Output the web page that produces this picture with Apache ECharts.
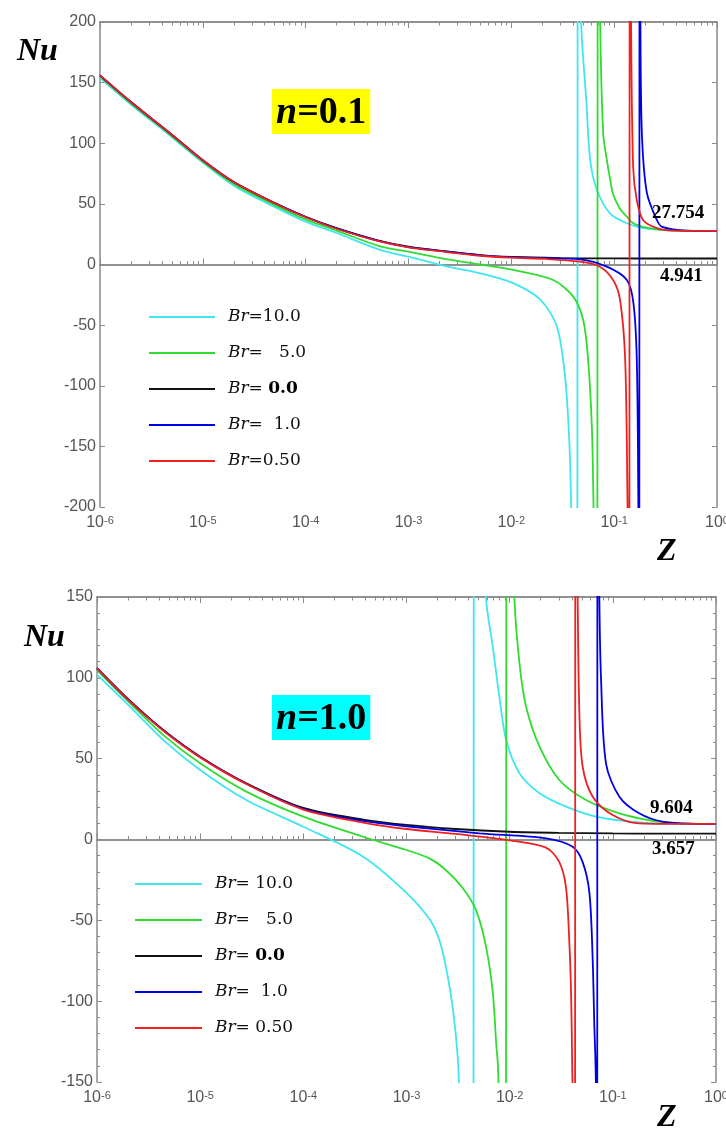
<!DOCTYPE html>
<html>
<head>
<meta charset="utf-8">
<script src="https://cdn.jsdelivr.net/npm/echarts@6/dist/echarts.min.js"></script>
<style>
  html, body { margin: 0; padding: 0; background: #fff; }
  #main { width: 726px; height: 1132px; }
</style>
</head>
<body>
<div id="main"></div>
<script>
// ---- data: [Z, Nu] ----
// top panel, n = 0.1
var topBr10 = [[1e-6,154],[2e-6,132],[5e-6,105],[1e-5,84],[2e-5,65],[5e-5,47.5],[1e-4,35.3],[2e-4,26],[5.3e-4,12],[1e-3,6.4],[2.4e-3,-1.8],[5e-3,-7.3],[0.0104,-15.4],[0.0191,-29],[0.0277,-51],[0.0333,-92.5],[0.0367,-147],[0.0382,-200],[0.0395,-260],[0.0438,-400],[0.0442,400],[0.0478,199],[0.0535,136],[0.0585,86],[0.068,61.4],[0.0914,42],[0.133,34],[0.191,30],[0.33,28.2],[1,27.754]];
var topBr5 = [[1e-6,155],[2e-6,133],[5e-6,106],[1e-5,85],[2e-5,66.5],[5e-5,49],[1e-4,37.2],[2e-4,28],[5.3e-4,15],[1e-3,10.6],[2.4e-3,4.3],[5e-3,0],[0.0104,-4.5],[0.0255,-12.8],[0.04,-26.5],[0.05,-45.8],[0.0558,-78.8],[0.0607,-134],[0.063,-200],[0.064,-250],[0.0685,-400],[0.0692,400],[0.0731,199],[0.0782,108],[0.0849,86],[0.0914,70],[0.0977,58],[0.114,46],[0.133,39.4],[0.153,34],[0.191,31],[0.224,30],[0.28,28.7],[0.375,28.1],[1,27.754]];
var topBr0 = [[1e-6,156],[2e-6,134],[5e-6,107],[1e-5,86],[2e-5,68],[5e-5,50.7],[1e-4,39.4],[2e-4,30],[5e-4,20],[1e-3,14.7],[2e-3,11.5],[5e-3,7.8],[1e-2,6.2],[0.03,5.3],[0.1,5.0],[0.3,4.95],[1,4.941]];
var topBr1 = [[1e-6,156],[2e-6,134],[5e-6,107],[1e-5,86],[2e-5,68],[5e-5,50.6],[1e-4,39.2],[2e-4,29.8],[5e-4,19.7],[1e-3,14.4],[2e-3,11.3],[5e-3,7.6],[1e-2,6],[0.0218,5.2],[0.0466,4.3],[0.0849,-1.8],[0.133,-12.8],[0.154,-32],[0.166,-78.8],[0.172,-200],[0.1735,-250],[0.1755,-400],[0.1765,400],[0.18,199],[0.186,108],[0.208,59],[0.26,36.7],[0.293,31],[0.51,28],[1,27.754]];
var topBr05 = [[1e-6,156],[2e-6,134],[5e-6,107],[1e-5,86],[2e-5,68],[5e-5,50.5],[1e-4,39],[2e-4,29.5],[5e-4,19.5],[1e-3,14.2],[2e-3,11],[5e-3,7.2],[1e-2,5.6],[0.0218,4.6],[0.0466,2.3],[0.0725,-1.8],[0.0977,-12.8],[0.114,-29],[0.128,-78.8],[0.135,-200],[0.137,-250],[0.1405,-400],[0.1415,400],[0.146,199],[0.153,80],[0.166,53],[0.191,36.7],[0.26,30],[0.375,28],[1,27.754]];

// bottom panel, n = 1.0
var botBr10 = [[1e-6,102],[2.1e-6,82],[4.4e-6,61.5],[1e-5,43],[2.8e-5,24.4],[1e-4,7.9],[3.8e-4,-10.6],[1e-3,-33],[1.7e-3,-50],[2.1e-3,-63],[2.43e-3,-80],[2.82e-3,-105],[3.15e-3,-136],[3.25e-3,-160],[3.5e-3,-220],[4.45e-3,-300],[4.5e-3,300],[5.9e-3,149],[6.87e-3,119],[7.96e-3,88],[9.25e-3,61.5],[0.01245,41],[0.0195,28.6],[0.0352,20.3],[0.0687,14.1],[0.1445,11],[0.303,9.8],[1,9.604]];
var botBr5 = [[1e-6,104.8],[2.1e-6,84.2],[4.4e-6,64.6],[1e-5,47.1],[2.8e-5,29.6],[1e-4,14.1],[3.8e-4,1.7],[1e-3,-6.5],[1.65e-3,-11.5],[2.27e-3,-17.5],[3.5e-3,-30],[4.74e-3,-44],[5.9e-3,-66.3],[6.87e-3,-95],[7.4e-3,-126],[7.7e-3,-140],[7.85e-3,-160],[9.2e-3,-300],[9.3e-3,300],[0.0111,150],[0.01245,109],[0.01445,82],[0.0195,57.4],[0.0303,36.8],[0.055,24.4],[0.1157,16.2],[0.243,11.6],[0.44,10],[1,9.604]];
var botBr0 = [[1e-6,106],[2e-6,87],[4.4e-6,67.7],[1e-5,51.2],[2.8e-5,34.8],[1e-4,19.5],[3.8e-4,12.3],[1e-3,9],[3e-3,6.5],[1e-2,4.8],[0.03,4.1],[0.1,3.75],[0.3,3.66],[1,3.657]];
var botBr1 = [[1e-6,106],[2e-6,86.5],[4.4e-6,67.5],[1e-5,51],[2.8e-5,34.5],[1e-4,19],[3.8e-4,11.5],[1e-3,8.2],[5.1e-3,3.8],[0.0225,0.7],[0.0408,-4.5],[0.051,-14],[0.0593,-33],[0.0638,-74.5],[0.0662,-116],[0.0678,-136],[0.0688,-160],[0.0705,-300],[0.0709,300],[0.074,150],[0.0769,99],[0.0859,47],[0.1157,26.5],[0.18,16.2],[0.303,11],[0.64,9.7],[1,9.604]];
var botBr05 = [[1e-6,106],[2e-6,86.5],[4.4e-6,67.3],[1e-5,50.8],[2.8e-5,34.3],[1e-4,18.5],[3.8e-4,10.5],[1e-3,6.5],[3e-3,3.5],[1e-2,-0.5],[0.0225,-5],[0.0303,-14],[0.0352,-30],[0.0379,-64],[0.0394,-95],[0.0403,-136],[0.0408,-160],[0.043,-300],[0.0433,300],[0.0456,150],[0.0474,78],[0.051,45],[0.0638,26.5],[0.0995,15.2],[0.18,10],[0.44,9.62],[1,9.604]];

var seriesNames = ['Br10', 'Br5', 'Br0', 'Br1', 'Br05'];
var seriesColors = ['#3fe6f0', '#2fdc2f', '#111111', '#0000e6', '#ee2020'];
var topLegendText = ['{g|}{i|Br}{t|=10.0}', '{g|}{i|Br}{t|=   5.0}', '{g|}{i|Br}{t|= }{b|0.0}', '{g|}{i|Br}{t|=  1.0}', '{g|}{i|Br}{t|=0.50}'];
var botLegendText = ['{g|}{i|Br}{t|= 10.0}', '{g|}{i|Br}{t|=   5.0}', '{g|}{i|Br}{t|= }{b|0.0}', '{g|}{i|Br}{t|=  1.0}', '{g|}{i|Br}{t|= 0.50}'];
var decades = [1e-6, 1e-5, 1e-4, 1e-3, 1e-2, 1e-1, 1];

var minorZ = [];
for (var d = 0; d < decades.length - 1; d++) {
  for (var k = 2; k <= 9; k++) minorZ.push(+(decades[d] * k).toPrecision(3));
}

var chart = echarts.init(document.getElementById('main'));
var gray = '#8a8a8a';
var sans = 'Liberation Sans, Arial, sans-serif';
var serif = 'Liberation Serif, Times New Roman, serif';
var legendSerif = 'DejaVu Serif, serif';

function xAxisFor(grid, pos, ticks, len, labels) {
  return {
    type: 'log', logBase: 10, min: 1e-6, max: 1, gridIndex: grid, position: pos,
    axisLine: { show: true, lineStyle: { color: gray, width: 1.5 } },
    axisTick: { show: true, inside: true, length: len, customValues: ticks, lineStyle: { color: gray, width: 1 } },
    axisLabel: labels ? {
      show: true, customValues: decades, margin: 8, color: '#555', fontFamily: sans, fontSize: 16,
      formatter: function (v) { return '10{s|' + Math.round(Math.log(v) / Math.LN10) + '}'; },
      rich: { s: { fontSize: 11, fontFamily: sans, color: '#555', verticalAlign: 'top' } }
    } : { show: false },
    splitLine: { show: false }
  };
}

function yAxisFor(grid, pos, lo, hi, minor, labels) {
  return {
    type: 'value', gridIndex: grid, position: pos, min: lo, max: hi, interval: 50,
    axisLine: { show: true, lineStyle: { color: gray, width: 1.5 } },
    axisTick: { show: true, inside: true, length: 5, lineStyle: { color: gray } },
    minorTick: { show: minor, splitNumber: 5, length: 3, lineStyle: { color: gray } },
    axisLabel: { show: labels, margin: 4, color: '#555', fontFamily: sans, fontSize: 16 },
    splitLine: { show: false }
  };
}

function lineSeries(name, color, data, xi, yi) {
  return {
    name: name, type: 'line', data: data, xAxisIndex: xi, yAxisIndex: yi,
    showSymbol: false, symbol: 'none', smooth: 0.3, clip: true,
    color: color, lineStyle: { color: color, width: 1.8 }, emphasis: { disabled: true }
  };
}

function legendFor(top, left, width, texts) {
  return {
    data: seriesNames, orient: 'vertical', left: left, top: top,
    itemWidth: width, itemHeight: 2, itemGap: 16, icon: 'rect', selectedMode: false,
    formatter: function (name) { return texts[seriesNames.indexOf(name)]; },
    textStyle: {
      fontFamily: legendSerif, fontSize: 17, color: '#111', lineHeight: 20,
      rich: {
        g: { width: 8 },
        i: { fontFamily: legendSerif, fontStyle: 'italic', fontSize: 17, color: '#111' },
        t: { fontFamily: legendSerif, fontSize: 17, color: '#111' },
        b: { fontFamily: legendSerif, fontWeight: 'bold', fontSize: 17, color: '#000' }
      }
    }
  };
}

function label(text, left, top, size, style) {
  return {
    text: text, left: left, top: top, padding: 0,
    textStyle: { fontFamily: serif, fontWeight: 'bold', fontStyle: style || 'normal', fontSize: size, color: '#000' }
  };
}

function nLabel(text, left, top, bg) {
  return {
    text: text, left: left, top: top, padding: [3, 4, 0, 4], backgroundColor: bg,
    textStyle: {
      fontSize: 38, lineHeight: 42,
      rich: {
        i: { fontFamily: serif, fontWeight: 'bold', fontStyle: 'italic', fontSize: 38, color: '#000' },
        b: { fontFamily: serif, fontWeight: 'bold', fontSize: 38, color: '#000' }
      }
    }
  };
}

var topSets = [topBr10, topBr5, topBr0, topBr1, topBr05];
var botSets = [botBr10, botBr5, botBr0, botBr1, botBr05];
var series = [];
seriesNames.forEach(function (n, i) { series.push(lineSeries(n, seriesColors[i], topSets[i], 0, 0)); });
seriesNames.forEach(function (n, i) { series.push(lineSeries(n, seriesColors[i], botSets[i], 4, 2)); });

var option = {
  animation: false,
  backgroundColor: '#ffffff',
  grid: [
    { left: 100, top: 22, width: 617, height: 485, outerBoundsMode: 'none' },
    { left: 97, top: 597, width: 619, height: 485, outerBoundsMode: 'none' }
  ],
  xAxis: [
    xAxisFor(0, 'bottom', decades, 6, true),
    xAxisFor(0, 'bottom', minorZ, 3.5, false),
    xAxisFor(0, 'top', decades, 6, false),
    xAxisFor(0, 'top', minorZ, 3.5, false),
    xAxisFor(1, 'bottom', decades, 6, true),
    xAxisFor(1, 'bottom', minorZ, 3.5, false),
    xAxisFor(1, 'top', decades, 6, false),
    xAxisFor(1, 'top', minorZ, 3.5, false)
  ],
  yAxis: [
    yAxisFor(0, 'left', -200, 200, false, true),
    yAxisFor(0, 'right', -200, 200, false, false),
    yAxisFor(1, 'left', -150, 150, true, true),
    yAxisFor(1, 'right', -150, 150, true, false)
  ],
  legend: [
    legendFor(302, 144, 66, topLegendText),
    legendFor(869, 130, 67, botLegendText)
  ],
  title: [
    label('Nu', 17, 36, 32, 'italic'),
    label('Z', 657, 536, 32, 'italic'),
    label('Nu', 24, 622, 32, 'italic'),
    label('Z', 657, 1102, 32, 'italic'),
    nLabel('{i|n}{b|=0.1}', 272, 89, '#ffff00'),
    nLabel('{i|n}{b|=1.0}', 272, 695, '#00ffff'),
    label('27.754', 652, 204, 19),
    label('4.941', 660, 267, 19),
    label('9.604', 650, 799, 19),
    label('3.657', 652, 840, 19)
  ],
  series: series
};
chart.setOption(option);
</script>
</body>
</html>
